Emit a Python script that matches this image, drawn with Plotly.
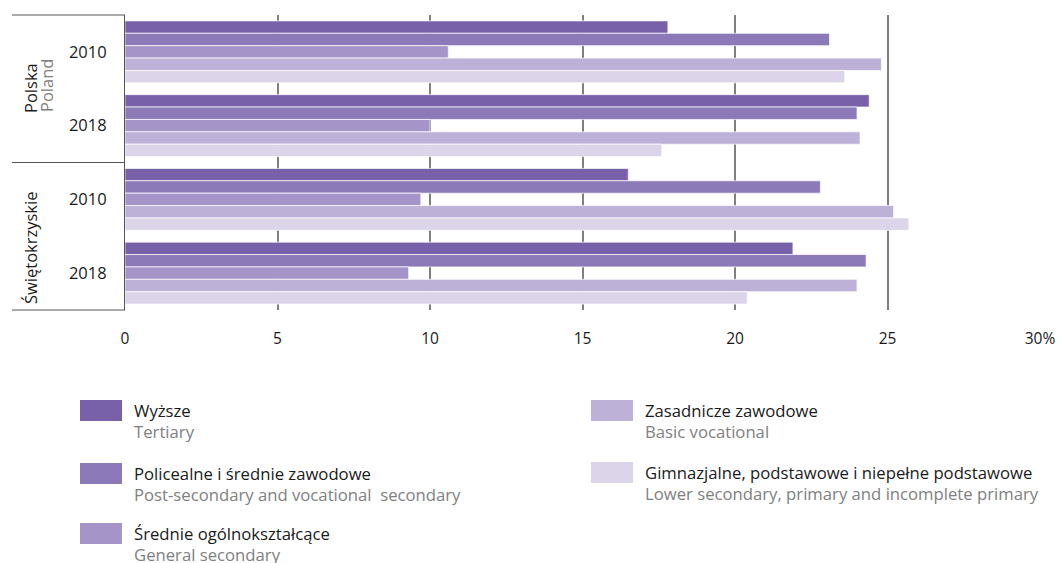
import plotly.graph_objects as go

# --- data ---
groups = ["Polska 2010", "Polska 2018", "Świętokrzyskie 2010", "Świętokrzyskie 2018"]
year_labels = ["2010", "2018", "2010", "2018"]

levels_pl = ["Wyższe", "Policealne i średnie zawodowe", "Średnie ogólnokształcące",
             "Zasadnicze zawodowe", "Gimnazjalne, podstawowe i niepełne podstawowe"]
levels_en = ["Tertiary", "Post-secondary and vocational  secondary", "General secondary",
             "Basic vocational", "Lower secondary, primary and incomplete primary"]

wyzsze = [17.8, 24.4, 16.5, 21.9]
policealne = [23.1, 24.0, 22.8, 24.3]
srednie_ogolne = [10.6, 10.0, 9.7, 9.3]
zasadnicze = [24.8, 24.1, 25.2, 24.0]
gimnazjalne = [23.6, 17.6, 25.7, 20.4]
series = [wyzsze, policealne, srednie_ogolne, zasadnicze, gimnazjalne]

colors = ["#7861a9", "#8c7ab8", "#a594c8", "#bdb1d7", "#dcd5ea"]

x_ticks = [0, 5, 10, 15, 20, 25, 30]
x_ticktext = ["0", "5", "10", "15", "20", "25", "30%"]

FONT = "'Open Sans', 'Noto Sans', sans-serif"

# page body keeps its 8px margin, so the figure starts at (8, 8)
OFF = 8
W, H = 1063 - OFF, 563 - OFF
# plot area in window pixels
L, R, T, B = 125, 1040, 15, 310


def px(x):
    return (x - L) / (R - L)


def py(y):
    return (B - y) / (B - T)


fig = go.Figure()
for vals, name, col in zip(series, levels_pl, colors):
    fig.add_trace(go.Bar(
        y=groups, x=vals, orientation="h", name=name,
        marker=dict(color=col, line=dict(color="rgba(255,255,255,0.7)", width=1)),
        showlegend=False,
    ))

# --- side panel lines ---
for yy in [T, 162.5, B]:
    fig.add_shape(type="line", xref="paper", yref="paper",
                  x0=px(12), x1=0, y0=py(yy), y1=py(yy),
                  line=dict(color="#555555", width=1))

# --- side panel labels ---
side = [("Polska", 30, 88, "#1a1a1a"), ("Poland", 46, 86, "#808080"),
        ("Świętokrzyskie", 30, 248, "#1a1a1a")]
for txt, sx, sy, col in side:
    fig.add_annotation(x=px(sx), y=py(sy), xref="paper", yref="paper", text=txt,
                       textangle=-90, showarrow=False, xanchor="center", yanchor="middle",
                       font=dict(size=16.5, color=col, family=FONT))

# --- manual legend ---
legend_pos = [(80, 400), (80, 463), (80, 523), (591, 400), (591, 462)]
for (lx, ly), col, pl, en in zip(legend_pos, colors, levels_pl, levels_en):
    fig.add_shape(type="rect", xref="paper", yref="paper",
                  x0=px(lx), x1=px(lx + 42), y0=py(ly), y1=py(ly + 21),
                  fillcolor=col, line=dict(width=0))
    fig.add_annotation(x=px(lx + 52), y=py(ly + 10), xref="paper", yref="paper",
                       text=pl, showarrow=False, xanchor="left", yanchor="middle",
                       font=dict(size=16.7, color="#1a1a1a", family=FONT))
    fig.add_annotation(x=px(lx + 52), y=py(ly + 31), xref="paper", yref="paper",
                       text=en, showarrow=False, xanchor="left", yanchor="middle",
                       font=dict(size=16.7, color="#808080", family=FONT))

fig.update_layout(
    width=W, height=H,
    margin=dict(l=L - OFF, r=W - (R - OFF), t=T - OFF, b=H - (B - OFF)),
    barmode="group", bargap=0.16, bargroupgap=0,
    plot_bgcolor="white", paper_bgcolor="white",
    font=dict(family=FONT, color="#1a1a1a"),
    xaxis=dict(range=[0, 30], tickvals=x_ticks, ticktext=x_ticktext,
               showgrid=True, gridcolor="#7f7f7f", gridwidth=1.5, zeroline=False,
               showline=False, ticks="", ticklabelstandoff=17, ticklabeloverflow="allow",
               tickfont=dict(size=15.5, color="#1a1a1a")),
    yaxis=dict(autorange="reversed", tickvals=groups, ticktext=year_labels,
               showgrid=False, showline=True, linecolor="#555555", linewidth=1,
               ticks="", ticklabelstandoff=14, tickfont=dict(size=16.5, color="#1a1a1a")),
)

fig.write_html("out.html", config={"displayModeBar": False})
